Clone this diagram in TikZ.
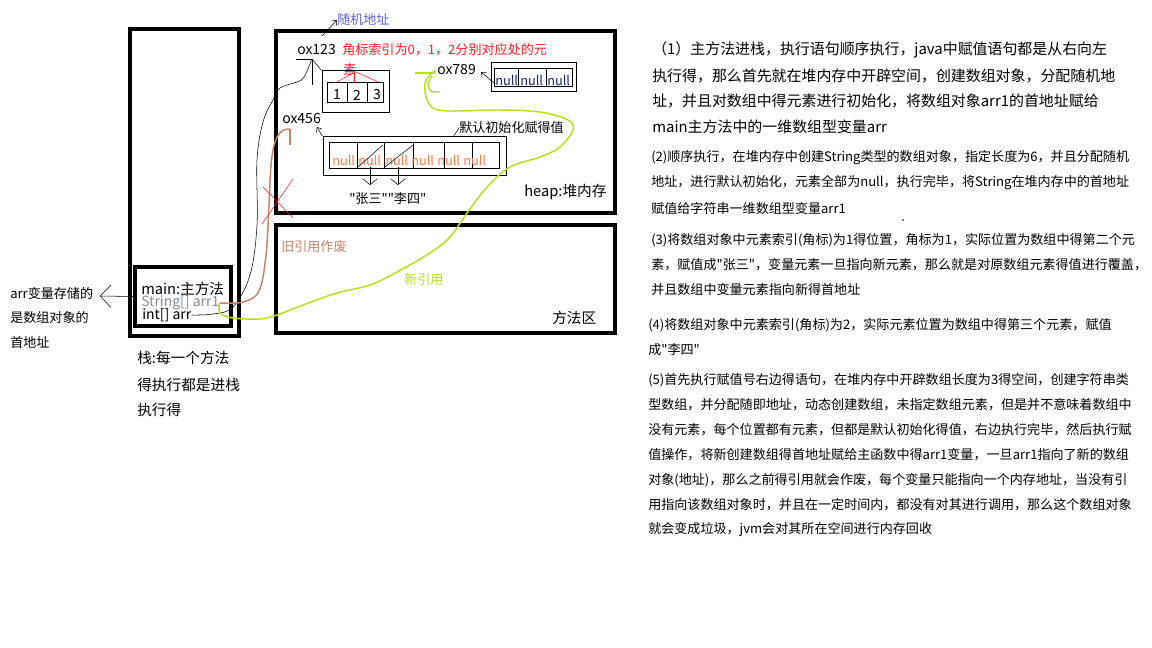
\documentclass[tikz,border=0pt]{standalone}
\usepackage{fontspec}
\setmainfont{Noto Sans CJK SC}[Ligatures=TeXOff]
\usetikzlibrary{arrows.meta}

\definecolor{oldref}{RGB}{196,132,104}
\definecolor{newref}{RGB}{184,224,24}
\definecolor{addrblue}{RGB}{96,96,230}
\definecolor{nullorange}{RGB}{248,128,72}
\definecolor{nullnavy}{RGB}{28,36,120}
\definecolor{hintred}{RGB}{250,30,40}
\definecolor{arrgray}{RGB}{136,140,156}

\tikzset{
  area/.style={draw, line width=2.5pt, inner sep=0pt},
  cellbox/.style={draw, line width=0.75pt, inner sep=0pt},
  txt/.style={anchor=west, inner sep=0pt, font=\fontsize{9.8}{11}\selectfont},
  txtmid/.style={anchor=west, inner sep=0pt, font=\fontsize{10.5}{12}\selectfont},
  txtbig/.style={anchor=west, inner sep=0pt, font=\fontsize{11}{13}\selectfont},
  nulltxt/.style={anchor=west, inner sep=0pt, font=\fontsize{9.6}{11}\selectfont},
  digit/.style={inner sep=0pt, font=\fontsize{10.5}{12}\selectfont},
  para/.style={anchor=west, inner sep=0pt, font=\fontsize{9.8}{12}\selectfont},
  parabig/.style={anchor=west, inner sep=0pt, font=\fontsize{11.2}{13}\selectfont},
  barb/.style={-{Straight Barb[length=3pt,width=5pt]}},
  vbarb/.style={-{Straight Barb[length=4.5pt,width=11pt]}},
}

\begin{document}
\begin{tikzpicture}[x=0.75pt,y=0.75pt,yscale=-1,xscale=1]
\useasboundingbox (0,0) rectangle (1152,648);

%Shape: Rectangle (stack, main, heap, method area)
\node (stack) [area, minimum width=81.75pt, minimum height=230.25pt] at (184.5,182.5) {};
\node (mainbox) [area, minimum width=72pt, minimum height=44.25pt] at (183,296.5) {};
\node (heap) [area, minimum width=254.25pt, minimum height=136.5pt] at (445.5,122) {};
\node (method) [area, minimum width=254.25pt, minimum height=81pt] at (445.5,279) {};

% Text Node
\node (mainlbl) [txtbig] at (141,289) {main:主方法};
\node (arr1) [txtmid, text=arrgray] at (141,303) {String[] arr1};
\node (arr) [txtmid] at (142,315) {int[] arr};
\node (note1) [txt] at (10,293) {arr变量存储的};
\node (note2) [txt] at (10,318) {是数组对象的};
\node (note3) [txt] at (10,343) {首地址};
\node (stk1) [txtbig] at (137,358) {栈:每一个方法};
\node (stk2) [txtbig] at (137,385) {得执行都是进栈};
\node (stk3) [txtbig] at (137,410) {执行得};
\node (heaplbl) [txtbig] at (524,192) {heap:堆内存};
\node (methodlbl) [txtbig] at (552,318) {方法区};
\node (oldlbl) [txt, text=oldref] at (281,247) {旧引用作废};
\node (newlbl) [txt, text=newref] at (404,280) {新引用};

%Straight Lines (note arrow)
\coordinate (notetip) at (100,296);
\draw [-{Straight Barb[length=8pt,width=17pt]}] (mainbox.west) -- (notetip);

% Text Node (addresses)
\node (randaddr) [txt, text=addrblue] at (337,20) {随机地址};
\node (ox123) [txtmid] at (297,50) {ox123};
\node (hint) [txt, text=hintred] at (342,50) {角标索引为0，1，2分别对应处的元};
\node (su) [txt, text=hintred] at (343,70) {素};
\node (ox789) [txtmid] at (437,70) {ox789};
\node (ox456) [txtmid] at (282,119) {ox456};
\node (deflbl) [txt] at (459,128) {默认初始化赋得值};
\node (names) [txt] at (349,199) {"张三""李四"};

%Straight Lines (random address)
\coordinate (addrtail) at (322,36);
\draw [barb] (addrtail) -- (randaddr.west);

%Shape: Rectangle (array of 3)
\node (arrA) [cellbox, minimum width=50.25pt, minimum height=31.5pt] at (355.5,92) {};
\draw (327,82) rectangle (383,102);
\foreach \x in {347,367} \draw (\x,82) -- (\x,102);
\node (dA1) [digit] at (337,95) {1};
\node (dA2) [digit] at (357,95) {2};
\node (dA3) [digit] at (377,95) {3};
\draw [hintred] (355,72) -- (335,83);
\draw [hintred] (354,73) -- (354,83);
\draw [hintred] (356,72) -- (378,82);
%Straight Lines (ox123 bracket)
\coordinate (bracket) at (312,59);
\draw (296,59) -- (bracket) -- (312,85);
\draw (bracket) -- (arrA.north west);

%Shape: Rectangle (array of 6)
\node (arrB) [cellbox, minimum width=137.25pt, minimum height=29.25pt] at (414.5,156.5) {};
\draw (329,142) rectangle (499,168);
\foreach \x in {357,384,413,444,472} \draw (\x,142) -- (\x,168);
\foreach \x in {332,358,385,411,437,463}
  \node [nulltxt, text=nullorange] at (\x,160) {null};
\draw (358,167) -- (383,145);
\draw (385,167) -- (413,145);
\draw [vbarb] (370,167) -- (370,185);
\draw [vbarb] (398,167) -- (398,185);
\coordinate (tip456) at (317,127);
\draw [barb] (arrB.north west) -- (tip456);
\draw (453,137) -- (deflbl.west);

%Shape: Rectangle (array of 3, new)
\node (arrC) [cellbox, minimum width=63.75pt, minimum height=21.75pt] at (533.5,77.5) {};
\draw (494,68) rectangle (572,86);
\foreach \x in {518,546} \draw (\x,68) -- (\x,86);
\foreach \x in {495,520,547}
  \node [nulltxt, text=nullnavy] at (\x,80) {null};
\coordinate (tip789) at (481,72);
\draw [barb] (494,83) -- (tip789);

%Curve Lines (int[] arr -> ox123)
\draw plot [smooth, tension=0.6] coordinates {(arr.east) (213,314) (233,307) (250,275) (257,225) (257,160) (263,122) (273,100) (280,88) (297,82) (304,77) (bracket)};

%Curve Lines (String[] arr1 -> ox456, old)
\coordinate (oldtip) at (290,129);
\draw [oldref, line width=1.1pt] plot [smooth, tension=0.6] coordinates {(arr1.east) (243,302) (259,291) (266,255) (269,205) (271,165) (275,142) (282,131) (oldtip)};
\draw [oldref, line width=1.1pt] (oldtip) -- (290,145);

%Straight Lines (red cross)
\draw [hintred] (263,187) -- (293,218);
\draw [hintred] (293,179) -- (262,224);

%Curve Lines (String[] arr1 -> ox789, new)
\coordinate (newtip) at (436,70);
\draw [newref, line width=1.1pt] plot [smooth, tension=0.55] coordinates {(arr1.east) (220,313) (233,318) (260,319) (277,315) (303,305) (337,293) (370,285) (397,272) (430,253) (450,237) (467,213) (487,187) (510,167) (540,157) (560,147) (573,130) (568,120) (540,112) (500,110) (450,111) (433,108) (426,97) (425,83) (430,75) (newtip)};
\draw [newref, line width=1.1pt] (415,73) -- (435,73);
\draw [newref, line width=1.1pt] plot [smooth] coordinates {(432,76) (428,84) (431,91) (440,92)};

% Text Node (notes)
\foreach \t [count=\i] in {
  {（1）主方法进栈，执行语句顺序执行，java中赋值语句都是从右向左},
  {执行得，那么首先就在堆内存中开辟空间，创建数组对象，分配随机地},
  {址，并且对数组中得元素进行初始化，将数组对象arr1的首地址赋给},
  {main主方法中的一维数组型变量arr}}
  \node (pa\i) [parabig] at (652,{50+25.7*(\i-1)}) {\t};
\foreach \t [count=\i] in {
  {(2)顺序执行，在堆内存中创建String类型的数组对象，指定长度为6，并且分配随机},
  {地址，进行默认初始化，元素全部为null，执行完毕，将String在堆内存中的首地址},
  {赋值给字符串一维数组型变量arr1}}
  \node (pb\i) [para] at (651,{158+25*(\i-1)}) {\t};
\fill (903,220) circle (0.8);
\foreach \t [count=\i] in {
  {(3)将数组对象中元素索引(角标)为1得位置，角标为1，实际位置为数组中得第二个元},
  {素，赋值成"张三"，变量元素一旦指向新元素，那么就是对原数组元素得值进行覆盖，},
  {并且数组中变量元素指向新得首地址}}
  \node (pc\i) [para] at (651,{240+25*(\i-1)}) {\t};
\foreach \t [count=\i] in {
  {(4)将数组对象中元素索引(角标)为2，实际元素位置为数组中得第三个元素，赋值},
  {成"李四"}}
  \node (pd\i) [para] at (648,{325+25*(\i-1)}) {\t};
\foreach \t [count=\i] in {
  {(5)首先执行赋值号右边得语句，在堆内存中开辟数组长度为3得空间，创建字符串类},
  {型数组，并分配随即地址，动态创建数组，未指定数组元素，但是并不意味着数组中},
  {没有元素，每个位置都有元素，但都是默认初始化得值，右边执行完毕，然后执行赋},
  {值操作，将新创建数组得首地址赋给主函数中得arr1变量，一旦arr1指向了新的数组},
  {对象(地址)，那么之前得引用就会作废，每个变量只能指向一个内存地址，当没有引},
  {用指向该数组对象时，并且在一定时间内，都没有对其进行调用，那么这个数组对象},
  {就会变成垃圾，jvm会对其所在空间进行内存回收}}
  \node (pe\i) [para] at (648,{380+25*(\i-1)}) {\t};

\end{tikzpicture}
\end{document}
